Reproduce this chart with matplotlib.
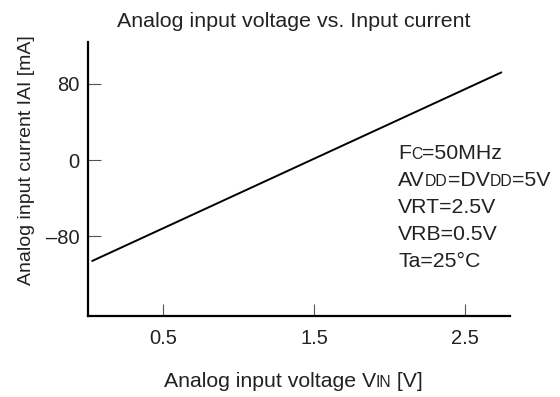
import numpy as np
import matplotlib.pyplot as plt
from matplotlib.offsetbox import TextArea, HPacker, AnnotationBbox

plt.rcParams['font.family'] = ['Liberation Sans', 'DejaVu Sans']

# data
vin = [0.03, 2.74]
iai = [-106, 92]
x_ticks = [0.5, 1.5, 2.5]
y_ticks = [80, 0, -80]
y_tick_labels = ['80', '0', '\u201380']

fig = plt.figure(figsize=(5.6, 3.97), dpi=100)
ax = fig.add_axes([0.157, 0.204, 0.754, 0.690])

ax.plot(vin, iai, color='black', lw=1.4)
ax.set_xlim(0, 2.8)
ax.set_ylim(-164, 124)
ax.set_xticks(x_ticks)
ax.set_xticklabels([str(t) for t in x_ticks])
ax.set_yticks(y_ticks)
ax.set_yticklabels(y_tick_labels)
ax.tick_params(direction='in', length=9, width=0.8, color='#555555',
               labelsize=14.5, labelcolor='#222222', pad=9)
ax.tick_params(axis='y', pad=6)
for s in ['top', 'right']:
    ax.spines[s].set_visible(False)
for s in ['left', 'bottom']:
    ax.spines[s].set_linewidth(1.6)

txt = '#222222'
big = 15.3
small = 11.3

fig.text(0.525, 0.947, 'Analog input voltage vs. Input current', ha='center', va='center',
         fontsize=15.4, color=txt)
fig.text(0.047, 0.597, 'Analog input current IAI [mA]', rotation=90, ha='center', va='center',
         fontsize=14, color=txt)


def row(parts):
    boxes = [TextArea(t, textprops=dict(fontsize=sz, color=txt)) for t, sz in parts]
    return HPacker(children=boxes, align='baseline', pad=0, sep=0)


xlab = row([('Analog input voltage V', 15.3), ('IN', 11.3), (' [V]', 15.3)])
fig.add_artist(AnnotationBbox(xlab, (0.524, 0.040), xycoords='figure fraction',
                              frameon=False, box_alignment=(0.5, 0.5)))

lines = [
    [('F', big), ('C', small), ('=50MHz', big)],
    [('AV', big), ('DD', small), ('=DV', big), ('DD', small), ('=5V', big)],
    [('VRT=2.5V', big)],
    [('VRB=0.5V', big)],
    [('Ta=25\u00b0C', big)],
]
for i, l in enumerate(lines):
    y = 1 - (153.5 + i * 27.1) / 397
    fig.add_artist(AnnotationBbox(row(l), (0.711, y), xycoords='figure fraction',
                                  frameon=False, box_alignment=(0, 0.5)))

fig.savefig('out.png', dpi=100)
